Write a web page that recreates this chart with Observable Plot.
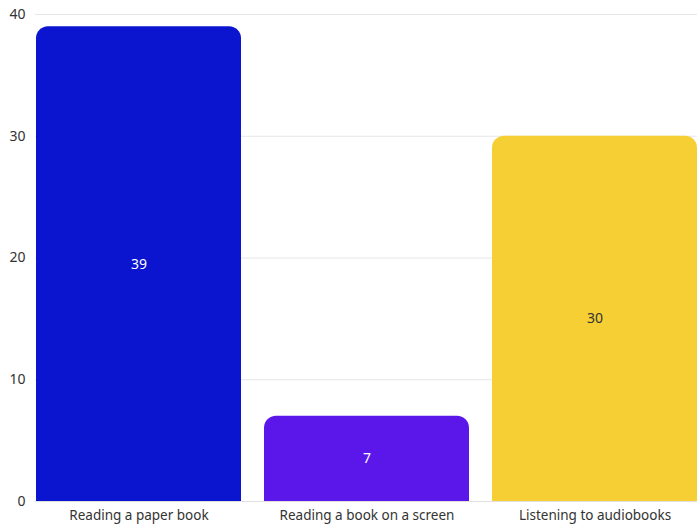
<!DOCTYPE html>
<html><head><meta charset="utf-8">
<script src="https://cdn.jsdelivr.net/npm/d3@7"></script>
<script src="https://cdn.jsdelivr.net/npm/@observablehq/plot@0.6"></script>
<style>body{margin:0;background:#fff;overflow:hidden;} svg{display:block;overflow:visible;}</style>
</head><body><div id="chart"></div>
<script>
const categories = ["Reading a paper book", "Reading a book on a screen", "Listening to audiobooks"];
const values = [39, 7, 30];
const colors = ["#0b14cf", "#5b17e9", "#f5cf33"];
const labelColors = ["#ffffff", "#ffffff", "#333333"];
const yTicks = [0, 10, 20, 30, 40];

const data = categories.map((c, i) => ({cat: c, value: values[i], color: colors[i], lc: labelColors[i]}));

const chart = Plot.plot({
  width: 697, height: 529,
  marginLeft: 35, marginRight: -2, marginTop: 14, marginBottom: 28,
  style: {fontFamily: "'Noto Sans', sans-serif", fontSize: "13px", color: "#333", overflow: "visible"},
  x: {domain: categories, paddingInner: 0.1, paddingOuter: 0, label: null, tickSize: 0, tickPadding: 7},
  y: {domain: [0, 40], ticks: yTicks, label: null, tickSize: 0, tickPadding: 10, grid: false},
  marks: [
    Plot.gridY(yTicks, {stroke: "#e6e6e6", strokeOpacity: 1}),
    Plot.barY(data, {x: "cat", y: "value", fill: "color", rx: 12}),
    Plot.barY(data, {x: "cat", y1: 0, y2: d => d.value / 2, fill: "color"}),
    Plot.text(data, {x: "cat", y: d => d.value / 2, text: d => String(d.value), fill: "lc", fontSize: 14}),
    Plot.axisY({ticks: yTicks, tickSize: 0, tickPadding: 10, fontSize: 14, label: null}),
    Plot.axisX({tickSize: 0, tickPadding: 9, fontSize: 13.5, label: null}),
    Plot.ruleY([0], {stroke: "#e0e0e0"})
  ]
});
document.getElementById("chart").append(chart);
</script>
</body></html>
